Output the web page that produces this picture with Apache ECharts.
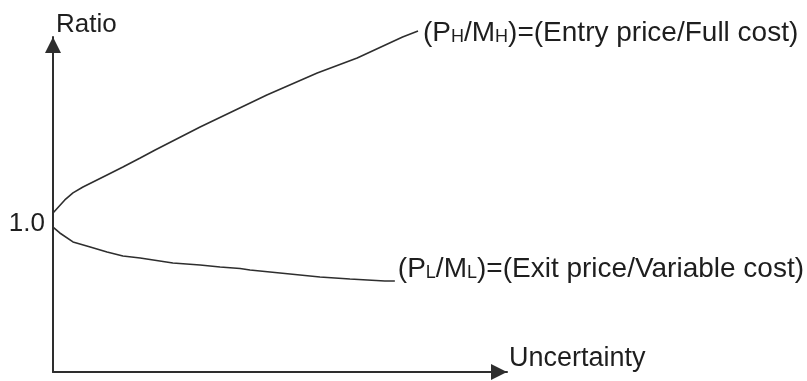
<!DOCTYPE html>
<html>
<head>
<meta charset="utf-8">
<script src="https://cdn.jsdelivr.net/npm/echarts@6/dist/echarts.min.js"></script>
<style>
html,body{margin:0;padding:0;background:#fff;}
#c{width:807px;height:381px;}
</style>
</head>
<body>
<div id="c"></div>
<script>
// Upper curve: Entry price / Full cost (x = uncertainty, y = ratio)
const upperX = [0, 2.6, 4.4, 6.6, 11.9, 15.4, 19.2, 22.5, 32.4, 47.1, 58.2, 67.0, 77.0, 80.4];
const upperY = [1.044, 1.13, 1.176, 1.215, 1.294, 1.346, 1.405, 1.458, 1.609, 1.819, 1.964, 2.062, 2.20, 2.239];
// Lower curve: Exit price / Variable cost
const lowerX = [0, 1.5, 4.4, 8.2, 11.9, 15.4, 19.2, 26.4, 32.4, 36.8, 41.2, 43.4, 50.0, 58.8, 65.4, 73.1, 75.3];
const lowerY = [0.952, 0.913, 0.854, 0.821, 0.788, 0.762, 0.749, 0.716, 0.703, 0.69, 0.68, 0.67, 0.65, 0.624, 0.611, 0.598, 0.598];
const upperLabel = '(P{s|H}/M{s|H})=(Entry price/Full cost)';
const lowerLabel = '(P{s|L}/M{s|L})=(Exit price/Variable cost)';
const yTickLabel = '1.0';
const xName = 'Uncertainty';
const yName = 'Ratio';

const toPairs = (xs, ys) => xs.map((x, i) => [x, ys[i]]);
const FONT = '"Liberation Sans", Arial, sans-serif';
const TXT = '#1e1e1e';
const LINE = '#2e2e2e';
const rich = {
  s: { fontSize: 18, fontFamily: FONT, color: TXT, verticalAlign: 'bottom', padding: [0, 0, 1, 0] }
};

const chart = echarts.init(document.getElementById('c'), null, { renderer: 'canvas' });
chart.setOption({
  animation: false,
  backgroundColor: '#ffffff',
  grid: { left: 53, right: 300, top: 37, bottom: 9, outerBoundsMode: 'none', containLabel: false },
  xAxis: {
    type: 'value', min: 0, max: 100,
    name: xName, nameLocation: 'end', nameGap: 2,
    nameTextStyle: { fontSize: 27, fontFamily: FONT, color: TXT, verticalAlign: 'bottom', padding: [0, 0, 0, 0] },
    axisLine: { show: true, symbol: ['none', 'triangle'], symbolSize: [16, 16], symbolOffset: [0, -8],
      lineStyle: { color: LINE, width: 2 } },
    axisTick: { show: false }, axisLabel: { show: false }, splitLine: { show: false }
  },
  yAxis: {
    type: 'value', min: 0, max: 2.2, interval: 1,
    name: yName, nameLocation: 'end', nameGap: -1,
    nameTextStyle: { fontSize: 26, fontFamily: FONT, color: TXT, align: 'left', padding: [0, 0, 0, 3] },
    axisLine: { show: true, symbol: ['none', 'triangle'], symbolSize: [16, 16], symbolOffset: [0, -8],
      lineStyle: { color: LINE, width: 2 } },
    axisTick: { show: false }, splitLine: { show: false },
    axisLabel: {
      show: true, margin: 8, color: TXT,
      showMaxLabel: false, showMinLabel: false,
      formatter: v => (Math.abs(v - 1) < 1e-9 ? '{a|' + yTickLabel + '}' : ''),
      rich: { a: { fontSize: 26, fontFamily: FONT, color: TXT, padding: [9, 0, 0, 0] } }
    }
  },
  series: [
    {
      type: 'line', data: toPairs(upperX, upperY), showSymbol: false, symbol: 'none', clip: false,
      lineStyle: { color: LINE, width: 1.6 },
      endLabel: { show: true, formatter: upperLabel, fontSize: 28, fontFamily: FONT, color: TXT,
        distance: 5, offset: [0, 2], rich: rich }
    },
    {
      type: 'line', data: toPairs(lowerX, lowerY), showSymbol: false, symbol: 'none', clip: false,
      lineStyle: { color: LINE, width: 1.6 },
      endLabel: { show: true, formatter: lowerLabel, fontSize: 28, fontFamily: FONT, color: TXT,
        distance: 3, offset: [0, -12], rich: rich }
    }
  ]
});
</script>
</body>
</html>
